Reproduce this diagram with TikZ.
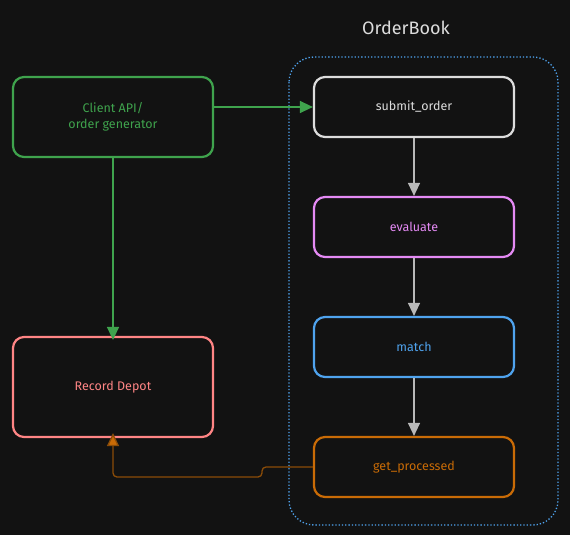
\documentclass[tikz,border=0pt]{standalone}
\usepackage{fontspec}
\setmainfont{Fira Sans}
\usetikzlibrary{arrows.meta,positioning}
\definecolor{bg}{HTML}{121212}
\definecolor{cgreen}{HTML}{3FA34D}
\definecolor{cwhite}{HTML}{DCDCDC}
\definecolor{cmag}{HTML}{E48AF4}
\definecolor{cblue}{HTML}{4FA3EE}
\definecolor{corange}{HTML}{C96B06}
\definecolor{cred}{HTML}{FF8585}
\definecolor{cline}{HTML}{B8B8B8}
\definecolor{corline}{HTML}{8A4C08}
\tikzset{
  box/.style={draw, line width=2.2pt, rounded corners=11pt, fill=bg, minimum width=200pt, minimum height=60pt, font=\fontsize{12.5}{16}\selectfont, align=center, inner sep=0pt},
  arr/.style={line width=1.3pt, -{Triangle[length=13pt,width=12pt]}},
}
\begin{document}
\begin{tikzpicture}[x=1pt,y=-1pt]
\fill[bg] (0,0) rectangle (570,535);
\useasboundingbox (0,0) rectangle (570,535);
\draw[cblue, line width=1.3pt, dotted, rounded corners=25pt] (289,57) rectangle (558,525);
\node[text=cwhite, font=\fontsize{18}{22}\selectfont] (title) at (406,28) {OrderBook};
\node[box, draw=cgreen, text=cgreen, minimum height=80pt] (client) at (113,117) {Client API/\\order generator};
\node[box, draw=cred, text=cred, minimum height=100pt] (rec) at (113,387) {Record Depot};
\node[box, draw=cwhite, text=cwhite] (sub) at (414,107) {submit\_order};
\node[box, draw=cmag, text=cmag] (eva) at (414,227) {evaluate};
\node[box, draw=cblue, text=cblue] (mat) at (414,347) {match};
\node[box, draw=corange, text=corange] (get) at (414,467) {get\_processed};
\draw[arr, cgreen] (client.east |- sub.west) -- (sub.west);
\draw[arr, cgreen] (client.south) -- ([yshift=-4pt]rec.north);
\draw[arr, cline] (sub) -- (eva);
\draw[arr, cline] (eva) -- (mat);
\draw[arr, cline] (mat) -- (get);
\coordinate (k1) at (262,467);
\coordinate (k2) at (113,477);
\draw[line width=1.3pt, corline, -{Triangle[length=13pt,width=12pt,fill=corange]}, rounded corners=4pt]
  (get.west) -- (k1) -- (k1 |- k2) -- (k2) -- ([yshift=5pt]rec.south);
\end{tikzpicture}
\end{document}
